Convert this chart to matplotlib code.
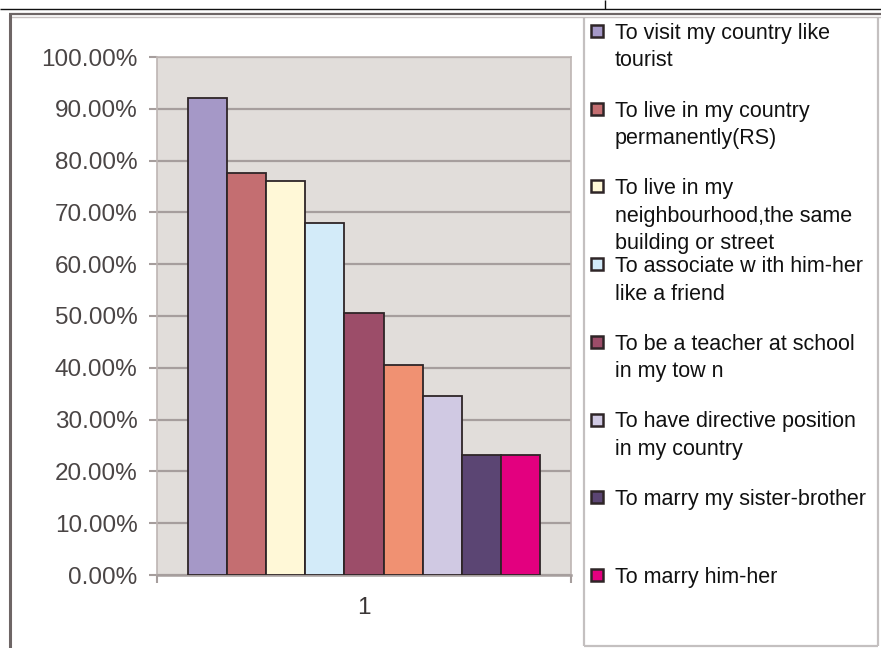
import numpy as np
import matplotlib
matplotlib.use("Agg")
from matplotlib import pyplot as plt
from matplotlib.patches import Rectangle
from matplotlib.lines import Line2D
from matplotlib.ticker import PercentFormatter, FixedLocator

# Data
category = ["1"]
shares = [0.920, 0.777, 0.761, 0.680, 0.506, 0.405, 0.346, 0.232, 0.232]
series_labels = [
    "To visit my country like\ntourist",
    "To live in my country\npermanently(RS)",
    "To live in my\nneighbourhood,the same\nbuilding or street",
    "To associate w ith him-her\nlike a friend",
    "To be a teacher at school\nin my tow n",
    "",  # entry hidden in the cut-off legend
    "To have directive position\nin my country",
    "To marry my sister-brother",
    "To marry him-her",
]
bar_colors = ["#A598C7", "#C46E71", "#FFF8D7", "#D3EBF9", "#9C4D69",
              "#F09172", "#D0C9E3", "#5B4573", "#E3007F"]

W, H = 881, 648
plt.rcParams['font.family'] = ['Liberation Sans', 'DejaVu Sans']

fig = plt.figure(figsize=(W / 100, H / 100), dpi=100)
fig.patch.set_facecolor("white")


def fx(x):
    return x / W


def fy(y):
    return 1 - y / H


def hline(x0, x1, y, color, lw):
    fig.add_artist(Line2D([fx(x0), fx(x1)], [fy(y), fy(y)], color=color, lw=lw,
                          transform=fig.transFigure, solid_capstyle="butt"))


def vline(x, y0, y1, color, lw):
    fig.add_artist(Line2D([fx(x), fx(x)], [fy(y0), fy(y1)], color=color, lw=lw,
                          transform=fig.transFigure, solid_capstyle="butt"))


# Page lines above the chart
hline(0, W, 9, "#111111", 1.0)
vline(605, 0, 9, "#111111", 1.0)

# Chart frame
hline(9, W, 14, "#6E6666", 1.6)
hline(9, W, 17, "#C8C2C2", 1.0)
vline(10, 14, H, "#6E6666", 2.2)

# Plot area
grid_col = "#A69E9D"
ax = fig.add_axes([fx(157), fy(575), (571 - 157) / W, (575 - 57) / H])
ax.set_facecolor("#E1DDDA")
n = len(shares)
bar_w = 39.2 / 414
pos = (np.arange(n) - (n - 1) / 2) * bar_w
ax.bar(pos, shares, width=bar_w, color=bar_colors, edgecolor="#2E2527",
       linewidth=1.3, zorder=3)
ax.set_xlim(-0.5, 0.5)
ax.set_ylim(0, 1.0)

ax.yaxis.set_major_locator(FixedLocator(np.arange(0, 1.01, 0.1)))
ax.yaxis.set_major_formatter(PercentFormatter(1.0, decimals=2))
ax.grid(axis="y", color=grid_col, lw=1.6, zorder=1)
ax.set_axisbelow(True)
ax.tick_params(axis="y", length=6, width=1.5, color=grid_col, pad=8,
               labelsize=17.5, labelcolor="#4A4545")

ax.set_xticks([0])
ax.set_xticklabels(category)
ax.set_xticks([-0.5, 0.5], minor=True)
ax.tick_params(axis="x", which="major", length=0, pad=16, labelsize=17.5,
               labelcolor="#3A3535")
ax.tick_params(axis="x", which="minor", length=6, width=1.5, color=grid_col)

for side in ["left", "right", "top"]:
    ax.spines[side].set_color("#BDB5B3")
    ax.spines[side].set_linewidth(1.2)
ax.spines["bottom"].set_color(grid_col)
ax.spines["bottom"].set_linewidth(1.8)

# Legend box
leg_col = "#C4C0C0"
vline(584, 17, 646, leg_col, 1.6)
hline(584, 878, 646, leg_col, 1.6)
vline(878, 17, 646, leg_col, 1.6)

slot0, slot_step, line_step = 31, 77.7, 27.5
k = 0
for lab, col in zip(series_labels, bar_colors):
    if not lab:
        continue
    cy = slot0 + k * slot_step
    fig.add_artist(Rectangle((fx(591), fy(cy + 6)), 12 / W, 12 / H,
                             facecolor=col, edgecolor="#2E2527", lw=1.8,
                             transform=fig.transFigure))
    for j, line in enumerate(lab.split("\n")):
        fig.text(fx(615), fy(cy + 8 + j * line_step), line, fontsize=15.5,
                 color="#111111", va="baseline", ha="left")
    k += 1

fig.savefig("out.png", dpi=100)
